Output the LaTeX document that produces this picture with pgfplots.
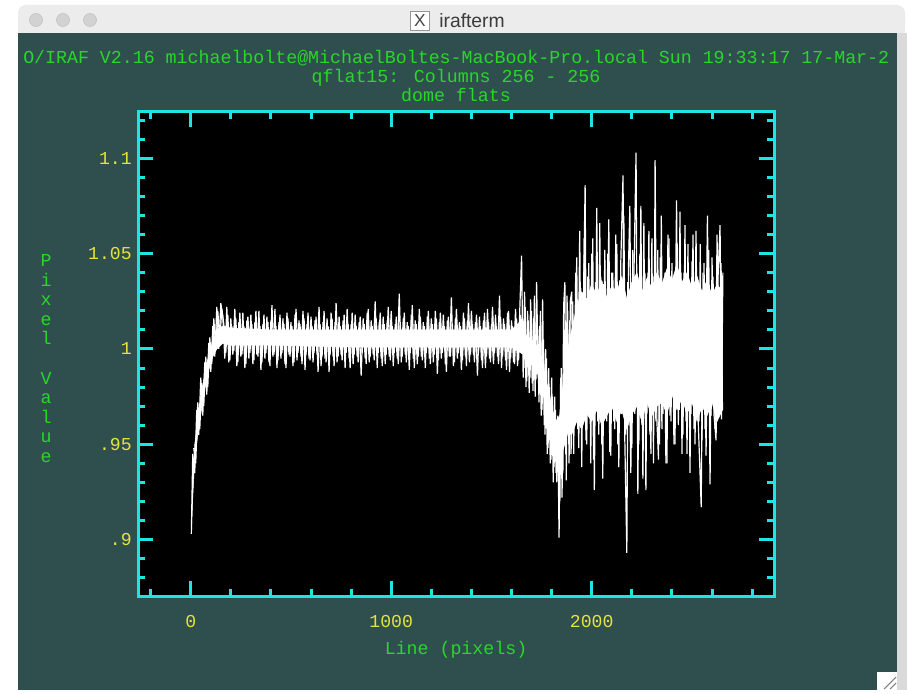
\documentclass[border=0pt]{standalone}
\usepackage{pgfplots}
\pgfplotsset{compat=1.18}
\usepackage{fontspec}
\setmainfont{Liberation Mono}
\newfontfamily\macfont{Liberation Sans}
\definecolor{termbg}{RGB}{47,79,79}
\definecolor{framec}{RGB}{30,228,228}
\definecolor{lbl}{RGB}{228,228,60}
\definecolor{grn}{RGB}{40,215,40}
\definecolor{titlebar}{RGB}{236,236,236}
\definecolor{sidestrip}{RGB}{218,218,218}
\definecolor{circfill}{RGB}{210,210,210}
\definecolor{circdraw}{RGB}{192,192,192}
\definecolor{icondraw}{RGB}{150,150,150}
\definecolor{icontext}{RGB}{70,70,70}
\definecolor{titletext}{RGB}{60,60,60}
\newcommand{\irf}{\fontsize{13.7}{16}\selectfont}
\begin{document}
\begin{tikzpicture}[x=0.75pt,y=0.75pt]
\useasboundingbox (0,0) rectangle (907,693);
\fill[white] (0,0) rectangle (907,693);
% window chrome
\fill[titlebar, rounded corners=6pt] (18,660) rectangle (905,688);
\fill[titlebar] (18,660) rectangle (905,672);
\fill[termbg] (18,3) rectangle (897,660);
\fill[sidestrip] (897,3) rectangle (907,660);
\foreach \cx in {36,63,90}{
  \fill[circfill, draw=circdraw] (\cx,673) circle (6.5);
}
\node[draw=icondraw, fill=white, minimum size=14pt, inner sep=0pt, font=\macfont\fontsize{13}{13}\selectfont, text=icontext] at (420,672) {X};
\node[anchor=base west, font=\macfont\fontsize{14.5}{14.5}\selectfont, text=titletext, inner sep=0pt] at (439,665.7) {irafterm};
% resize handle
\fill[white] (877,3) rectangle (897,21);
\draw[gray, line width=0.8pt] (884,4) -- (896,16) (890,4) -- (896,10);
% header text
\begin{scope}
\clip (18,3) rectangle (897,660);
\node[anchor=base west, inner sep=0pt, text=grn, font=\irf] at (23,629) {O/IRAF V2.16 michaelbolte@MichaelBoltes-MacBook-Pro.local Sun 19:33:17 17-Mar-2};
\end{scope}
\node[anchor=base, inner sep=0pt, text=grn, font=\irf] at (456,610) {qflat15: Columns 256 - 256};
\node[anchor=base, inner sep=0pt, text=grn, font=\irf] at (456,591.5) {dome flats};
% axis labels
\node[anchor=base, inner sep=0pt, text=grn, font=\irf] at (456,39) {Line (pixels)};
\node[anchor=base, inner sep=0pt, text=grn, font=\irf] at (46,426.5) {P};
\node[anchor=base, inner sep=0pt, text=grn, font=\irf] at (46,406.9) {i};
\node[anchor=base, inner sep=0pt, text=grn, font=\irf] at (46,387.3) {x};
\node[anchor=base, inner sep=0pt, text=grn, font=\irf] at (46,367.7) {e};
\node[anchor=base, inner sep=0pt, text=grn, font=\irf] at (46,348.1) {l};
\node[anchor=base, inner sep=0pt, text=grn, font=\irf] at (46,308.9) {V};
\node[anchor=base, inner sep=0pt, text=grn, font=\irf] at (46,289.3) {a};
\node[anchor=base, inner sep=0pt, text=grn, font=\irf] at (46,269.7) {l};
\node[anchor=base, inner sep=0pt, text=grn, font=\irf] at (46,250.1) {u};
\node[anchor=base, inner sep=0pt, text=grn, font=\irf] at (46,230.5) {e};
\begin{axis}[
  at={(103.5pt,72.75pt)}, anchor=south west,
  width=477pt, height=363pt, scale only axis,
  xmin=-263, xmax=2909, ymin=0.8704, ymax=1.1243,
  axis background/.style={fill=black},
  axis line style={framec, line width=2.25pt},
  tick style={framec, line width=2.25pt},
  major tick length=11.25pt, minor tick length=5.6pt,
  xtick={0,1000,2000}, xticklabels={0,1000,2000},
  minor xtick={-200,200,400,600,800,1200,1400,1600,1800,2200,2400,2600,2800},
  ytick={0.9,0.95,1,1.05,1.1}, yticklabels={.9,.95,1,1.05,1.1},
  minor ytick={0.88,0.89,0.91,0.92,0.93,0.94,0.96,0.97,0.98,0.99,1.01,1.02,1.03,1.04,1.06,1.07,1.08,1.09,1.11,1.12},
  ticklabel style={text=lbl, font=\fontsize{13.6}{14}\selectfont, inner sep=0pt},
  xticklabel style={anchor=north, yshift=-14.25pt},
  yticklabel style={anchor=east, xshift=-4.5pt},
  /pgf/number format/assume math mode=true,
]
\addplot[fill=white, draw=white, line width=0.4pt] coordinates {
(3,0.903) (10,0.932) (20,0.95) (35,0.962) (50,0.975) (70,0.987) (90,0.997) (110,1.004) (130,1.01) (160,1.012)
(200,1.011) (400,1.01) (800,1.01) (1200,1.01) (1600,1.01) (1650,1.015) (1660,1.008) (1700,1.005) (1740,1.0)
(1770,0.985) (1800,0.97) (1820,0.962) (1840,0.965) (1860,0.985) (1880,1.0) (1900,1.01) (1925,1.022) (1950,1.03)
(1975,1.026) (2000,1.034) (2025,1.028) (2050,1.036) (2075,1.027) (2100,1.033) (2125,1.03) (2150,1.038) (2175,1.026)
(2200,1.035) (2225,1.04) (2250,1.03) (2275,1.037) (2300,1.032) (2325,1.04) (2350,1.034) (2375,1.042) (2400,1.036)
(2425,1.044) (2450,1.035) (2475,1.04) (2500,1.032) (2525,1.038) (2550,1.03) (2575,1.036) (2600,1.028) (2625,1.034)
(2652,1.03)
(2652,0.968) (2625,0.962) (2600,0.972) (2575,0.965) (2550,0.97) (2525,0.962) (2500,0.972) (2475,0.966) (2450,0.974)
(2425,0.968) (2400,0.976) (2375,0.966) (2350,0.972) (2325,0.97) (2300,0.965) (2275,0.972) (2250,0.962) (2225,0.97)
(2200,0.966) (2175,0.958) (2150,0.968) (2125,0.962) (2100,0.97) (2075,0.965) (2050,0.96) (2025,0.968) (2000,0.962)
(1975,0.966) (1950,0.958) (1925,0.962) (1900,0.955)
(1880,0.956) (1860,0.948) (1840,0.942) (1820,0.945) (1800,0.955) (1770,0.97) (1740,0.985) (1700,0.993) (1660,0.997)
(1600,1.001) (1200,1.001) (800,1.001) (400,1.002) (200,1.002) (160,1.003) (130,1.0) (110,0.996) (90,0.989)
(70,0.979) (50,0.966) (35,0.955) (20,0.942) (10,0.922)
} -- cycle;
\addplot[white, line width=0.9pt] table {
x y
3 0.903
10 0.945
20 0.935
30 0.968
40 0.955
50 0.985
60 0.965
70 0.993
80 0.976
90 1.003
100 0.988
110 1.012
120 0.996
130 1.022
140 1.0
150 1.024
160 1.017
170 0.995
180 1.022
190 0.993
200 1.016
210 0.997
220 1.021
230 0.991
240 1.014
250 0.996
260 1.019
270 0.99
280 1.015
290 0.995
300 1.018
310 0.992
320 1.014
330 0.997
340 1.02
350 0.989
360 1.013
370 0.995
380 1.017
390 0.993
400 1.015
410 0.996
420 1.021
430 0.99
440 1.014
450 0.995
460 1.016
470 0.992
480 1.019
490 0.997
500 1.014
510 0.991
520 1.018
530 0.994
540 1.015
550 0.996
560 1.02
570 0.989
580 1.013
590 0.995
600 1.017
610 0.993
620 1.015
630 0.997
640 1.022
650 0.991
660 1.014
670 0.995
680 1.016
690 0.988
700 1.019
710 0.996
720 1.014
730 0.993
740 1.017
750 0.997
760 1.015
770 0.99
780 1.021
790 0.995
800 1.013
810 0.992
820 1.018
830 0.996
840 1.014
850 0.986
860 1.016
870 0.995
880 1.019
890 0.993
900 1.015
910 0.997
920 1.025
930 0.99
940 1.014
950 0.995
960 1.017
970 0.992
980 1.015
990 0.996
1000 1.02
1010 0.991
1020 1.013
1030 0.995
1040 1.029
1050 0.993
1060 1.016
1070 0.997
1080 1.014
1090 0.989
1100 1.018
1110 0.995
1120 1.015
1130 0.992
1140 1.021
1150 0.996
1160 1.014
1170 0.99
1180 1.017
1190 0.995
1200 1.016
1210 0.993
1220 1.02
1230 0.987
1240 1.014
1250 0.995
1260 1.018
1270 0.992
1280 1.015
1290 0.996
1300 1.027
1310 0.991
1320 1.016
1330 0.995
1340 1.014
1350 0.989
1360 1.019
1370 0.996
1380 1.015
1390 0.993
1400 1.02
1410 0.997
1420 1.014
1430 0.986
1440 1.017
1450 0.994
1460 1.015
1470 0.99
1480 1.021
1490 0.995
1500 1.013
1510 0.992
1520 1.018
1530 0.996
1540 1.028
1550 0.99
1560 1.016
1570 0.994
1580 1.019
1590 0.988
1600 1.015
1610 0.993
1620 1.021
1630 0.991
1640 1.017
1650 1.049
1658 0.985
1665 1.03
1672 0.98
1680 1.02
1688 0.977
1695 1.026
1703 0.982
1710 1.016
1718 0.975
1725 1.035
1733 0.985
1740 1.012
1748 0.965
1755 1.026
1763 0.96
1770 1.0
1778 0.945
1785 0.99
1793 0.94
1800 0.985
1808 0.93
1815 0.975
1822 0.935
1830 0.965
1837 0.901
1845 0.985
1852 0.922
1860 1.023
1866 1.035
1873 0.931
1880 1.02
1887 0.94
1893 1.025
1900 1.03
1910 0.945
1920 1.04
1930 0.958
1940 1.062
1950 0.938
1960 1.036
1967 1.086
1975 0.95
1985 1.045
1995 0.94
2005 1.058
2013 0.926
2025 1.074
2035 0.955
2045 1.038
2055 0.932
2065 1.052
2075 0.962
2085 1.068
2095 0.944
2105 1.04
2115 0.958
2125 1.055
2135 0.938
2145 1.046
2156 1.091
2165 0.952
2175 0.893
2183 1.042
2190 1.075
2200 0.948
2210 1.036
2221 1.103
2230 0.924
2240 1.05
2250 0.96
2260 1.066
2270 0.926
2280 1.04
2290 0.955
2300 1.058
2308 0.94
2316 1.099
2325 0.962
2333 0.942
2342 1.048
2350 0.958
2360 1.036
2370 0.94
2380 1.06
2390 0.965
2400 1.045
2410 0.95
2423 1.078
2432 0.96
2440 1.072
2450 0.945
2460 1.04
2470 0.962
2480 1.055
2490 0.935
2500 1.046
2510 0.958
2520 1.062
2530 0.965
2546 0.917
2555 1.04
2565 0.958
2577 1.07
2590 0.929
2600 1.048
2610 0.965
2620 0.952
2630 1.038
2640 1.065
2647 0.963
2654 1.04
};
\addplot[white, line width=0.9pt] table {
x y
15 0.948
25 0.94
35 0.972
45 0.958
55 0.982
65 0.97
75 0.996
85 0.98
95 1.006
105 0.992
115 1.016
125 1.0
135 1.02
145 1.004
155 1.021
165 1.013
175 0.998
185 1.018
195 0.994
205 1.012
215 0.999
225 1.016
235 0.993
245 1.019
255 0.997
265 1.012
275 0.992
285 1.017
295 0.998
305 1.013
315 0.994
325 1.02
335 0.996
345 1.012
355 0.993
365 1.018
375 0.998
385 1.014
395 0.991
405 1.023
415 0.997
425 1.012
435 0.994
445 1.018
455 0.998
465 1.013
475 0.99
485 1.016
495 0.996
505 1.012
515 0.993
525 1.021
535 0.998
545 1.013
555 0.992
565 1.016
575 0.997
585 1.019
595 0.994
605 1.012
615 0.998
625 1.017
635 0.988
645 1.013
655 0.996
665 1.02
675 0.993
685 1.012
695 0.997
705 1.016
715 0.991
725 1.024
735 0.996
745 1.012
755 0.994
765 1.018
775 0.998
785 1.013
795 0.99
805 1.019
815 0.997
825 1.012
835 0.993
845 1.017
855 0.998
865 1.013
875 0.992
885 1.021
895 0.996
905 1.012
915 0.994
925 1.016
935 0.998
945 1.019
955 0.991
965 1.013
975 0.997
985 1.022
995 0.994
1005 1.012
1015 0.998
1025 1.017
1035 0.992
1045 1.014
1055 0.996
1065 1.019
1075 0.993
1085 1.012
1095 0.998
1105 1.023
1115 0.99
1125 1.013
1135 0.996
1145 1.017
1155 0.994
1165 1.012
1175 0.998
1185 1.02
1195 0.992
1205 1.013
1215 0.997
1225 1.016
1235 0.994
1245 1.019
1255 0.998
1265 1.012
1275 0.988
1285 1.017
1295 0.996
1305 1.013
1315 0.993
1325 1.021
1335 0.998
1345 1.012
1355 0.994
1365 1.016
1375 0.991
1385 1.024
1395 0.997
1405 1.013
1415 0.993
1425 1.018
1435 0.998
1445 1.012
1455 0.99
1465 1.019
1475 0.996
1485 1.014
1495 0.993
1505 1.022
1515 0.998
1525 1.012
1535 0.992
1545 1.017
1555 0.996
1565 1.013
1575 0.989
1585 1.02
1595 0.995
1605 1.012
1615 0.992
1625 1.016
1635 0.994
1645 1.018
1655 1.01
1662 0.99
1668 1.022
1676 0.983
1684 1.015
1692 0.985
1699 1.02
1707 0.978
1714 1.028
1722 0.984
1729 1.01
1737 0.972
1744 1.02
1752 0.968
1759 1.005
1767 0.955
1774 0.995
1782 0.948
1789 0.98
1797 0.942
1804 0.975
1812 0.938
1819 0.968
1826 0.93
1834 0.96
1841 0.92
1848 0.99
1856 0.935
1863 1.01
1870 0.945
1877 1.028
1884 0.95
1890 1.015
1897 0.945
1905 1.025
1915 0.96
1925 1.048
1935 0.948
1945 1.032
1955 0.965
1963 1.058
1971 0.952
1980 1.038
1990 0.966
2000 1.05
2009 0.942
2019 1.035
2030 0.962
2040 1.066
2050 0.95
2060 1.034
2070 0.966
2080 1.05
2090 0.946
2100 1.04
2110 0.962
2120 1.06
2130 0.95
2140 1.036
2150 0.966
2160 1.07
2170 0.955
2180 1.035
2195 0.935
2205 1.052
2215 0.966
2225 1.038
2235 0.95
2245 1.075
2255 0.932
2265 1.04
2275 0.966
2285 1.062
2295 0.945
2305 1.038
2320 0.962
2329 1.052
2338 0.95
2347 1.07
2355 0.966
2365 1.04
2375 0.94
2385 1.058
2395 0.962
2405 1.036
2415 0.95
2427 1.055
2436 0.968
2445 1.04
2455 0.955
2465 1.065
2475 0.945
2485 1.035
2495 0.966
2505 1.06
2515 0.95
2525 1.038
2535 0.962
2541 1.055
2550 0.952
2560 1.045
2570 0.944
2583 1.052
2595 0.965
2605 1.038
2615 0.958
2625 1.06
2635 0.966
2645 1.045
2652 0.968
};
\end{axis}
\end{tikzpicture}
\end{document}
